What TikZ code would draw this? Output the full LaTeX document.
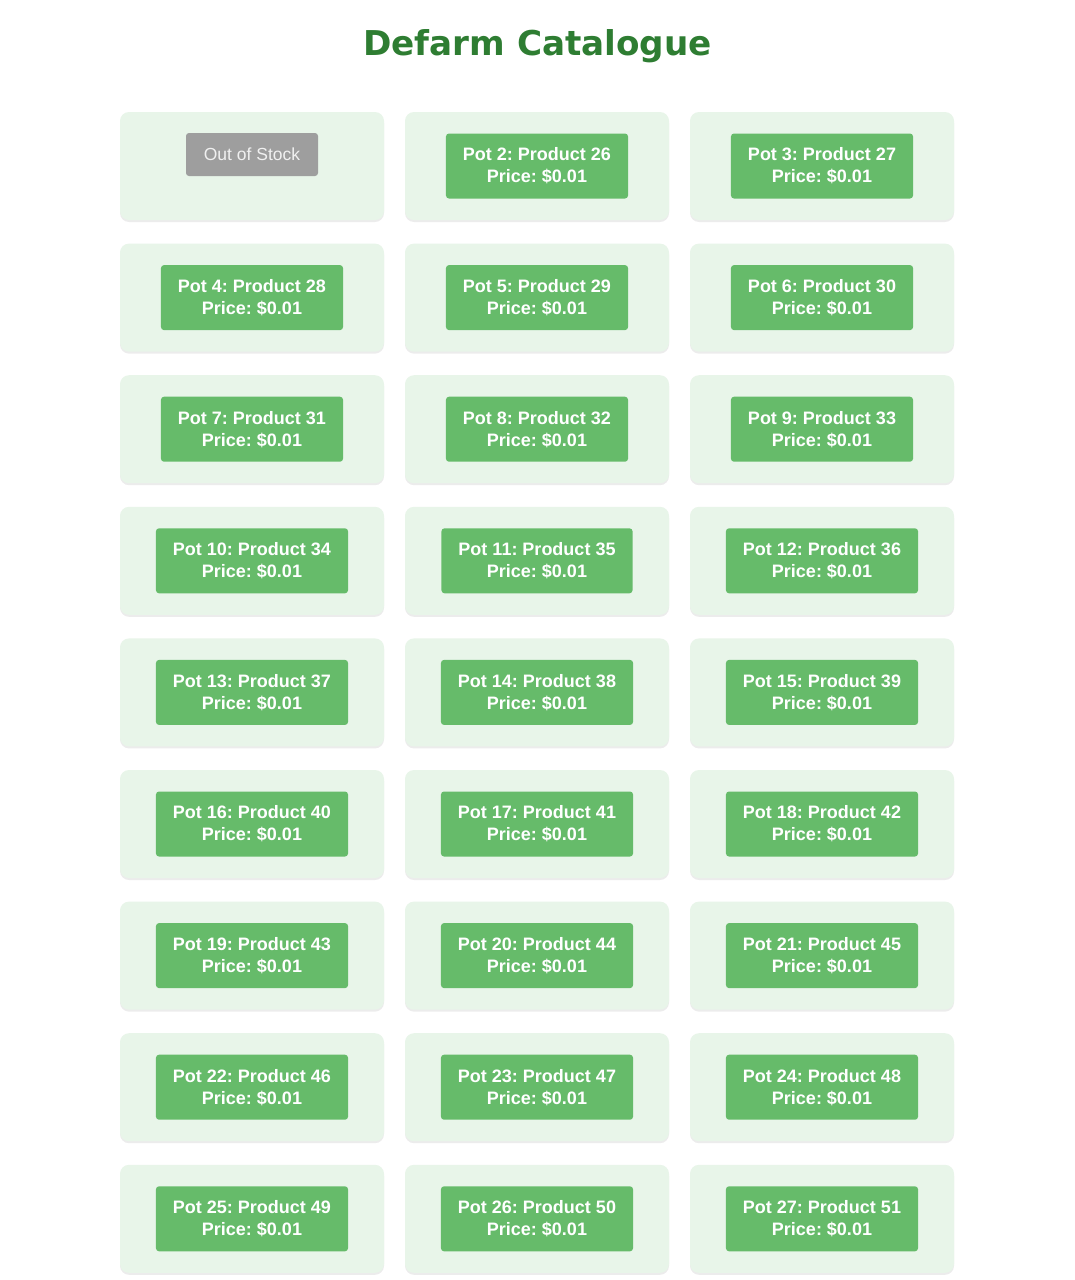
\documentclass[tikz,border=0pt]{standalone}
\usepackage{fontspec}
\setmainfont{Liberation Sans}
\newfontfamily\titlefont{DejaVu Sans}
\usetikzlibrary{shadows}
\definecolor{cardbg}{HTML}{E8F5E9}
\definecolor{btngreen}{HTML}{66BB6A}
\definecolor{oosgray}{HTML}{9E9E9E}
\definecolor{titlegreen}{HTML}{2E7D32}
\frenchspacing
\begin{document}
\begin{tikzpicture}[x=1pt,y=-1pt,
  card/.style={fill=cardbg, rounded corners=9pt, minimum width=264pt, minimum height=108pt, inner sep=0pt,
    drop shadow={opacity=0.12, fill=black!60, shadow xshift=0pt, shadow yshift=-2pt}},
  btn/.style={fill=btngreen, rounded corners=3pt, text=white, align=center, inner xsep=17pt, inner ysep=0pt,
    minimum height=65pt, font=\fontsize{18}{22}\selectfont\bfseries},
  oos/.style={fill=oosgray, rounded corners=3pt, text=white!94!black, inner xsep=16pt, inner ysep=0pt,
    minimum height=43pt, minimum width=132pt, font=\fontsize{17.5}{22}\selectfont},
  ttl/.style={text=titlegreen, font=\titlefont\fontsize{34.2}{40}\selectfont\bfseries}]
\useasboundingbox (0,0) rectangle (1075,1280);
\fill[white] (0,0) rectangle (1075,1280);
\node[ttl] (title) at (537.5,46) {Defarm Catalogue};
\foreach \i in {1,...,27}{
  \pgfmathtruncatemacro{\row}{(\i-1)/3}
  \pgfmathtruncatemacro{\col}{mod(\i-1,3)}
  \pgfmathsetmacro{\cx}{252+285*\col}
  \pgfmathsetmacro{\cy}{166+131.6*\row}
  \node[card] (card\i) at (\cx,\cy) {};
}
\node[oos, anchor=north] (btn1) at ([yshift=-21pt]card1.north) {Out of Stock};
\foreach \i in {2,...,27}{
  \pgfmathtruncatemacro{\prod}{\i+24}
  \node[btn] (btn\i) at (card\i) {Pot \i: Product \prod\\Price: \$0.01};
}
\end{tikzpicture}
\end{document}
